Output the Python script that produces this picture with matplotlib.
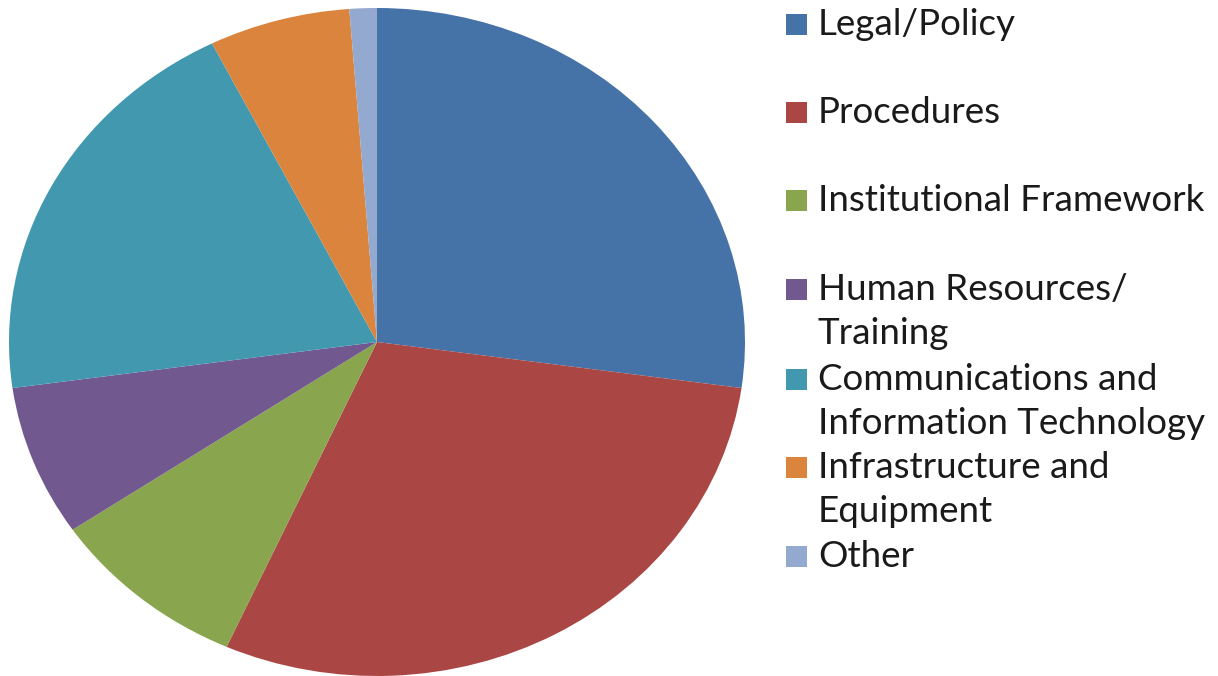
import matplotlib.pyplot as plt
from matplotlib.patches import Rectangle

labels = ["Legal/Policy", "Procedures", "Institutional Framework",
          "Human Resources/\nTraining", "Communications and\nInformation Technology",
          "Infrastructure and\nEquipment", "Other"]
values = [27.2, 29.5, 8.8, 7.3, 19.8, 6.2, 1.2]
colors = ["#4572A7", "#AA4643", "#89A54E", "#71588F", "#4198AF", "#DB843D", "#93A9CF"]

W, H = 1218, 676
fig = plt.figure(figsize=(W / 100, H / 100), dpi=100)

# pie is slightly wider than tall in the reference
ax = fig.add_axes([9 / W, 0, 736 / W, 668 / H])
ax.pie(values, colors=colors, startangle=90, counterclock=False,
       wedgeprops=dict(linewidth=0))
ax.set_aspect("auto")
ax.set_xlim(-1, 1)
ax.set_ylim(-1, 1)
ax.axis("off")

# legend drawn by hand: row centers (first line) in pixels from top
rows = [25, 113, 201, 290, 380, 468, 557]
for lab, col, yc in zip(labels, colors, rows):
    fig.patches.append(Rectangle((786 / W, 1 - (yc + 10) / H), 21 / W, 21 / H,
                                 transform=fig.transFigure, facecolor=col,
                                 edgecolor="none"))
    for i, line in enumerate(lab.split("\n")):
        fig.text(818 / W, 1 - (yc + 10 + i * 44.5) / H, line, ha="left",
                 va="baseline", fontsize=26.5, family="Lato", color="#1a1a1a")

fig.savefig("out.png", dpi=100)
